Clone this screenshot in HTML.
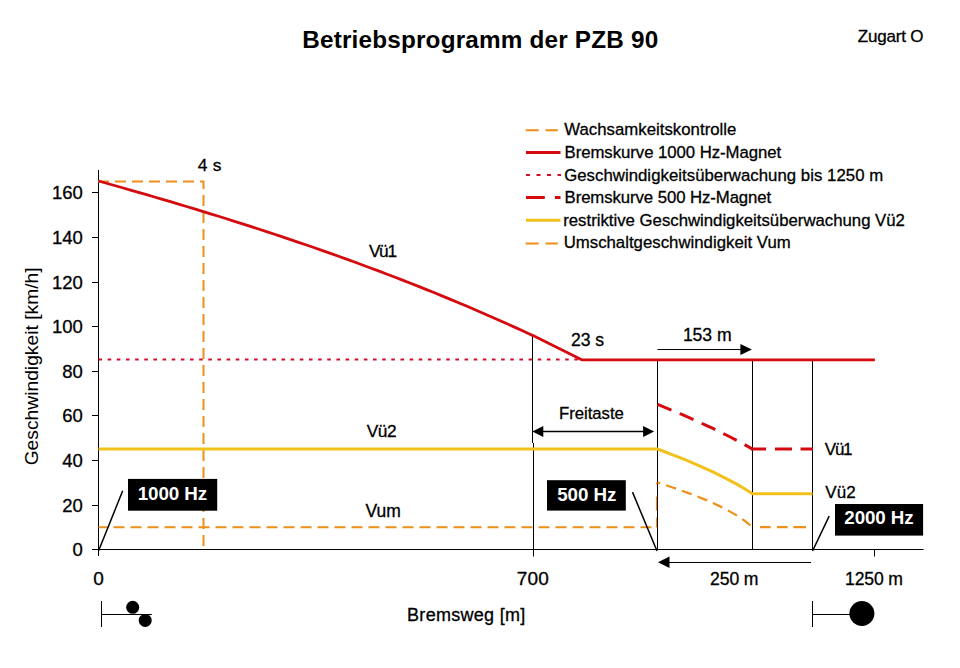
<!DOCTYPE html>
<html><head><meta charset="utf-8"><style>html,body{margin:0;padding:0;background:#fff;overflow:hidden;}svg{display:block;}</style></head>
<body><svg width="960" height="668" viewBox="0 0 960 668">
<rect width="960" height="668" fill="#fff"/>
<path d="M525.7 130.2H538.7M545.5 130.2H557.8" stroke="#ee8f1a" stroke-width="2"/>
<path d="M526 152.4H560.5" stroke="#d40a0e" stroke-width="3"/>
<path d="M526 175.1H561" stroke="#d0102a" stroke-width="2" stroke-dasharray="4 6.5"/>
<path d="M526 197.6H544.8M554.9 197.6H560.5" stroke="#d40a0e" stroke-width="3"/>
<path d="M526 220.2H560.5" stroke="#f2c11c" stroke-width="3"/>
<path d="M525.7 243.6H538.7M545.5 243.6H557.8" stroke="#ee8f1a" stroke-width="2"/>
<path d="M98.5 170V556M92 549.5H923.6" stroke="#000" stroke-width="1"/>
<path d="M92 549.5H98.5" stroke="#000" stroke-width="1"/>
<path d="M92 505.5H98.5" stroke="#000" stroke-width="1"/>
<path d="M92 460.5H98.5" stroke="#000" stroke-width="1"/>
<path d="M92 415.5H98.5" stroke="#000" stroke-width="1"/>
<path d="M92 371.5H98.5" stroke="#000" stroke-width="1"/>
<path d="M92 326.5H98.5" stroke="#000" stroke-width="1"/>
<path d="M92 282.5H98.5" stroke="#000" stroke-width="1"/>
<path d="M92 237.5H98.5" stroke="#000" stroke-width="1"/>
<path d="M92 192.5H98.5" stroke="#000" stroke-width="1"/>
<path d="M874.5 549.5V556.5" stroke="#000" stroke-width="1"/>
<text transform="translate(38.2 465.36) rotate(-90)" font-family="Liberation Sans, sans-serif" font-size="19.25">Geschwindigkeit [km/h]</text>
<path d="M98 181.5H203.5V549.5" fill="none" stroke="#ee8f1a" stroke-width="2" stroke-dasharray="11 6"/>
<path d="M98.5 359.6H582" stroke="#d0102a" stroke-width="2" stroke-dasharray="3.6 5.55"/>
<path d="M532.5 335.5V443M533.5 443V556.5M657.5 359.8V549.5M752.5 359.8V549.5M812.5 359.8V549.5" stroke="#000" stroke-width="1"/>
<path d="M98.5 527.19H657" fill="none" stroke="#ee8f1a" stroke-width="2" stroke-dasharray="11 6" stroke-dashoffset="2"/>
<path d="M656.5 527.5V482.5" fill="none" stroke="#ee8f1a" stroke-width="1.2" stroke-dasharray="10 7 14 12 3"/>
<polyline points="657.50,482.56 665.42,485.09 673.33,487.72 681.25,490.47 689.17,493.35 697.08,496.39 705.00,499.61 712.92,503.05 720.83,506.77 728.75,510.85 736.67,515.42 744.58,520.69 752.50,527.19" fill="none" stroke="#ee8f1a" stroke-width="2.2" stroke-dasharray="10.5 6.2" stroke-dashoffset="7.7"/>
<path d="M760 527.19H770.6M777 527.19H787.6M793.3 527.19H806" fill="none" stroke="#ee8f1a" stroke-width="2.2"/>
<polyline points="98.50,449.09 657.50,449.09 665.42,452.03 673.33,455.06 681.25,458.18 689.17,461.42 697.08,464.78 705.00,468.28 712.92,471.94 720.83,475.78 728.75,479.83 736.67,484.13 744.58,488.74 752.50,493.72 812.50,493.72" fill="none" stroke="#f2c11c" stroke-width="3"/>
<polyline points="98.50,180.99 106.50,183.23 114.50,185.49 122.50,187.76 130.50,190.04 138.50,192.34 146.50,194.66 154.50,196.99 162.50,199.34 170.50,201.70 178.50,204.08 186.50,206.48 194.50,208.90 202.50,211.34 210.50,213.80 218.50,216.28 226.50,218.78 234.50,221.30 242.50,223.84 250.50,226.41 258.50,229.00 266.50,231.61 274.50,234.24 282.50,236.90 290.50,239.59 298.50,242.30 306.50,245.04 314.50,247.80 322.50,250.59 330.50,253.41 338.50,256.26 346.50,259.13 354.50,262.04 362.50,264.97 370.50,267.94 378.50,270.93 386.50,273.96 394.50,277.02 402.50,280.11 410.50,283.24 418.50,286.39 426.50,289.59 434.50,292.81 442.50,296.08 450.50,299.37 458.50,302.71 466.50,306.08 474.50,309.49 482.50,312.93 490.50,316.42 498.50,319.94 506.50,323.51 514.50,327.11 522.50,330.75 530.50,334.44 532.50,335.36 581.70,359.84 874.88,359.84" fill="none" stroke="#d40a0e" stroke-width="2.8" stroke-linejoin="round"/>
<polyline points="657.50,404.47 665.42,407.65 673.33,410.90 681.25,414.24 689.17,417.65 697.08,421.16 705.00,424.77 712.92,428.48 720.83,432.32 728.75,436.28 736.67,440.38 744.58,444.65 752.50,449.09" fill="none" stroke="#d40a0e" stroke-width="3" stroke-dasharray="15 9"/>
<path d="M751 449.09H766M775 449.09H792M800.5 449.09H813" fill="none" stroke="#d40a0e" stroke-width="3"/>
<path d="M540 431.5H647" stroke="#000" stroke-width="1.6"/>
<path d="M532.3 431.5L543.3 426V437Z M654.1 431.5L643.1 426V437Z" fill="#000"/>
<path d="M657.5 349.5H742" stroke="#000" stroke-width="1"/>
<path d="M751.9 349.4L740.4 344.1V355Z" fill="#000"/>
<path d="M666 562.5H811" stroke="#000" stroke-width="1"/>
<path d="M658 562.2L669.5 556.4V567.9Z" fill="#000"/>
<path d="M98.5 551L122.7 490.8" stroke="#000" stroke-width="1.5"/>
<rect x="128" y="478.9" width="89.2" height="31.8" fill="#000"/>
<path d="M657 551L632.5 492.1" stroke="#000" stroke-width="1.5"/>
<rect x="547" y="480.2" width="78.8" height="30.4" fill="#000"/>
<path d="M812.5 551L829.2 516.1" stroke="#000" stroke-width="1.5"/>
<rect x="835" y="504" width="88.1" height="31.6" fill="#000"/>
<path d="M101.5 601V627M101.5 614.5H151.9" stroke="#000" stroke-width="1"/>
<circle cx="132.7" cy="607.3" r="6.5" fill="#000"/><circle cx="145.2" cy="620.4" r="6.5" fill="#000"/>
<path d="M812.5 601V627M812.5 614.5H850" stroke="#000" stroke-width="1"/>
<circle cx="861.9" cy="613.5" r="12.5" fill="#000"/>
<text x="302.20" y="47.50" font-family="Liberation Sans, sans-serif" font-weight="bold" font-size="24.3" letter-spacing="0.19" fill="#000" stroke="#000" stroke-width="0.0">Betriebsprogramm der PZB 90</text>
<text x="857.69" y="42.40" font-family="Liberation Sans, sans-serif" font-weight="normal" font-size="17" letter-spacing="-0.17" fill="#000" stroke="#000" stroke-width="0.3">Zugart O</text>
<text x="564.23" y="135.10" font-family="Liberation Sans, sans-serif" font-weight="normal" font-size="16.75" letter-spacing="0.03" fill="#000" stroke="#000" stroke-width="0.3">Wachsamkeitskontrolle</text>
<text x="564.56" y="157.70" font-family="Liberation Sans, sans-serif" font-weight="normal" font-size="16.75" letter-spacing="-0.05" fill="#000" stroke="#000" stroke-width="0.3">Bremskurve 1000 Hz-Magnet</text>
<text x="564.16" y="180.60" font-family="Liberation Sans, sans-serif" font-weight="normal" font-size="16.75" letter-spacing="0.04" fill="#000" stroke="#000" stroke-width="0.3">Geschwindigkeitsüberwachung bis 1250 m</text>
<text x="564.56" y="202.90" font-family="Liberation Sans, sans-serif" font-weight="normal" font-size="16.75" letter-spacing="-0.08" fill="#000" stroke="#000" stroke-width="0.3">Bremskurve 500 Hz-Magnet</text>
<text x="563.23" y="225.50" font-family="Liberation Sans, sans-serif" font-weight="normal" font-size="16.75" fill="#000" stroke="#000" stroke-width="0.3">restriktive Geschwindigkeitsüberwachung Vü2</text>
<text x="563.66" y="248.40" font-family="Liberation Sans, sans-serif" font-weight="normal" font-size="16.75" letter-spacing="0.02" fill="#000" stroke="#000" stroke-width="0.3">Umschaltgeschwindigkeit Vum</text>
<text x="72.48" y="555.95" font-family="Liberation Sans, sans-serif" font-weight="normal" font-size="18.5" fill="#000" stroke="#000" stroke-width="0.3">0</text>
<text x="62.30" y="511.95" font-family="Liberation Sans, sans-serif" font-weight="normal" font-size="18.5" fill="#000" stroke="#000" stroke-width="0.3">20</text>
<text x="62.30" y="466.95" font-family="Liberation Sans, sans-serif" font-weight="normal" font-size="18.5" fill="#000" stroke="#000" stroke-width="0.3">40</text>
<text x="62.30" y="421.95" font-family="Liberation Sans, sans-serif" font-weight="normal" font-size="18.5" fill="#000" stroke="#000" stroke-width="0.3">60</text>
<text x="62.30" y="377.95" font-family="Liberation Sans, sans-serif" font-weight="normal" font-size="18.5" fill="#000" stroke="#000" stroke-width="0.3">80</text>
<text x="51.94" y="332.95" font-family="Liberation Sans, sans-serif" font-weight="normal" font-size="18.5" fill="#000" stroke="#000" stroke-width="0.3">100</text>
<text x="51.94" y="288.95" font-family="Liberation Sans, sans-serif" font-weight="normal" font-size="18.5" fill="#000" stroke="#000" stroke-width="0.3">120</text>
<text x="51.94" y="243.95" font-family="Liberation Sans, sans-serif" font-weight="normal" font-size="18.5" fill="#000" stroke="#000" stroke-width="0.3">140</text>
<text x="51.94" y="198.95" font-family="Liberation Sans, sans-serif" font-weight="normal" font-size="18.5" fill="#000" stroke="#000" stroke-width="0.3">160</text>
<text x="93.24" y="584.50" font-family="Liberation Sans, sans-serif" font-weight="normal" font-size="19" fill="#000" stroke="#000" stroke-width="0.3">0</text>
<text x="516.85" y="584.50" font-family="Liberation Sans, sans-serif" font-weight="normal" font-size="19" letter-spacing="0.09" fill="#000" stroke="#000" stroke-width="0.3">700</text>
<text x="710.02" y="584.70" font-family="Liberation Sans, sans-serif" font-weight="normal" font-size="17.6" letter-spacing="-0.10" fill="#000" stroke="#000" stroke-width="0.3">250 m</text>
<text x="844.99" y="584.70" font-family="Liberation Sans, sans-serif" font-weight="normal" font-size="17.6" letter-spacing="-0.13" fill="#000" stroke="#000" stroke-width="0.3">1250 m</text>
<text x="407.06" y="621.00" font-family="Liberation Sans, sans-serif" font-weight="normal" font-size="18" letter-spacing="0.29" fill="#000" stroke="#000" stroke-width="0.3">Bremsweg [m]</text>
<text x="197.75" y="170.60" font-family="Liberation Sans, sans-serif" font-weight="normal" font-size="17.4" letter-spacing="0.21" fill="#000" stroke="#000" stroke-width="0.3">4 s</text>
<text x="368.93" y="257.40" font-family="Liberation Sans, sans-serif" font-weight="normal" font-size="17.3" letter-spacing="-1.33" fill="#000" stroke="#000" stroke-width="0.3">Vü1</text>
<text x="366.63" y="437.40" font-family="Liberation Sans, sans-serif" font-weight="normal" font-size="17.3" letter-spacing="-0.33" fill="#000" stroke="#000" stroke-width="0.3">Vü2</text>
<text x="365.52" y="517.20" font-family="Liberation Sans, sans-serif" font-weight="normal" font-size="17.5" letter-spacing="-0.02" fill="#000" stroke="#000" stroke-width="0.3">Vum</text>
<text x="570.92" y="346.40" font-family="Liberation Sans, sans-serif" font-weight="normal" font-size="17.6" letter-spacing="-0.06" fill="#000" stroke="#000" stroke-width="0.3">23 s</text>
<text x="682.89" y="341.10" font-family="Liberation Sans, sans-serif" font-weight="normal" font-size="17.6" letter-spacing="-0.05" fill="#000" stroke="#000" stroke-width="0.3">153 m</text>
<text x="558.96" y="418.75" font-family="Liberation Sans, sans-serif" font-weight="normal" font-size="16.7" fill="#000" stroke="#000" stroke-width="0.3">Freitaste</text>
<text x="824.83" y="455.10" font-family="Liberation Sans, sans-serif" font-weight="normal" font-size="17.0" letter-spacing="-1.27" fill="#000" stroke="#000" stroke-width="0.3">Vü1</text>
<text x="825.33" y="497.70" font-family="Liberation Sans, sans-serif" font-weight="normal" font-size="17.0" letter-spacing="0.03" fill="#000" stroke="#000" stroke-width="0.3">Vü2</text>
<text x="137.77" y="499.60" font-family="Liberation Sans, sans-serif" font-weight="bold" font-size="18.8" letter-spacing="-0.11" fill="#fff" stroke="#fff" stroke-width="0.0">1000 Hz</text>
<text x="557.24" y="500.50" font-family="Liberation Sans, sans-serif" font-weight="bold" font-size="18.8" letter-spacing="-0.08" fill="#fff" stroke="#fff" stroke-width="0.0">500 Hz</text>
<text x="844.34" y="524.30" font-family="Liberation Sans, sans-serif" font-weight="bold" font-size="18.8" letter-spacing="-0.12" fill="#fff" stroke="#fff" stroke-width="0.0">2000 Hz</text>
</svg></body></html>
